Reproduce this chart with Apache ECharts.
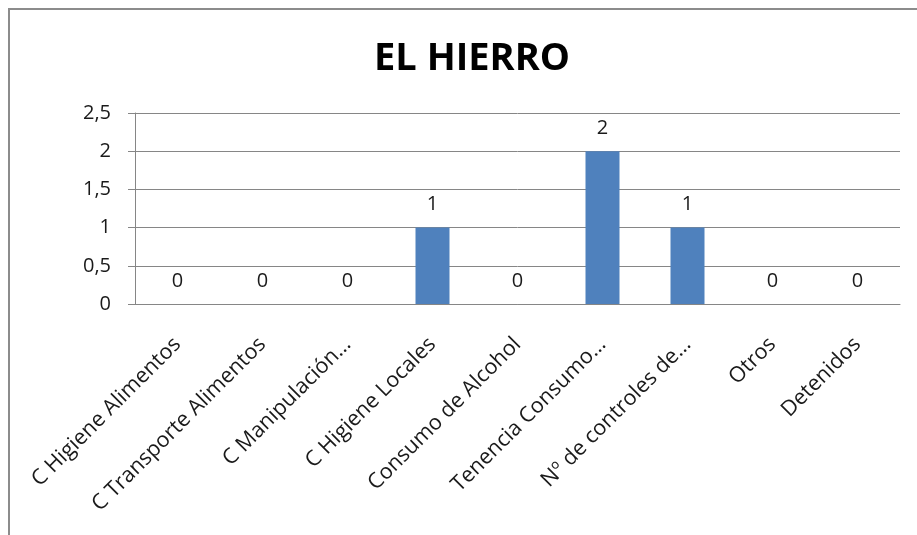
<!DOCTYPE html>
<html>
<head>
<meta charset="utf-8">
<script src="https://cdn.jsdelivr.net/npm/echarts@6/dist/echarts.min.js"></script>
<style>
  html, body { margin: 0; padding: 0; background: #fff; }
  #chart { width: 917px; height: 535px; }
</style>
</head>
<body>
<div id="chart"></div>
<script>
const titleText = 'EL HIERRO'
const categories = [
  'C Higiene Alimentos',
  'C Transporte Alimentos',
  'C Manipulación…',
  'C Higiene Locales',
  'Consumo de Alcohol',
  'Tenencia Consumo…',
  'Nº de controles de…',
  'Otros',
  'Detenidos'
]
const values = [0, 0, 0, 1, 0, 2, 1, 0, 0]
const yTicks = { min: 0, max: 2.5, interval: 0.5 }

const chart = echarts.init(document.getElementById('chart'))
const font = '"Open Sans", sans-serif'

const option = {
  backgroundColor: '#fff',
  animation: false,
  title: {
    text: titleText,
    left: 467,
    top: 35,
    textAlign: 'center',
    textStyle: { fontFamily: font, fontWeight: 'bold', fontSize: 38, color: '#000' }
  },
  graphic: [
    {
      type: 'polyline',
      shape: { points: [[9, 535], [9, 9], [917, 9]] },
      style: { stroke: '#8c8c8c', lineWidth: 2, fill: null }
    }
  ],
  grid: { left: 135, right: 17, top: 113, bottom: 231 },
  xAxis: {
    type: 'category',
    data: categories,
    axisLine: { lineStyle: { color: '#868686' } },
    axisTick: { length: 6, lineStyle: { color: '#868686' } },
    axisLabel: {
      interval: 0,
      rotate: 45,
      margin: 37,
      fontFamily: font,
      fontSize: 21.5,
      color: '#1a1a1a'
    }
  },
  yAxis: {
    type: 'value',
    min: yTicks.min,
    max: yTicks.max,
    interval: yTicks.interval,
    axisLine: { show: true, lineStyle: { color: '#868686' } },
    axisTick: { show: true, length: 7, lineStyle: { color: '#868686' } },
    splitLine: { lineStyle: { color: '#868686' } },
    axisLabel: {
      margin: 24,
      fontFamily: font,
      fontSize: 20,
      color: '#1a1a1a',
      formatter: v => String(v).replace('.', ',')
    }
  },
  series: [
    {
      type: 'bar',
      data: values,
      barWidth: 34,
      itemStyle: { color: '#4F81BD' },
      label: {
        show: true,
        position: 'top',
        distance: 13,
        fontFamily: font,
        fontSize: 20,
        color: '#1a1a1a'
      }
    }
  ]
}

chart.setOption(option)
</script>
</body>
</html>
